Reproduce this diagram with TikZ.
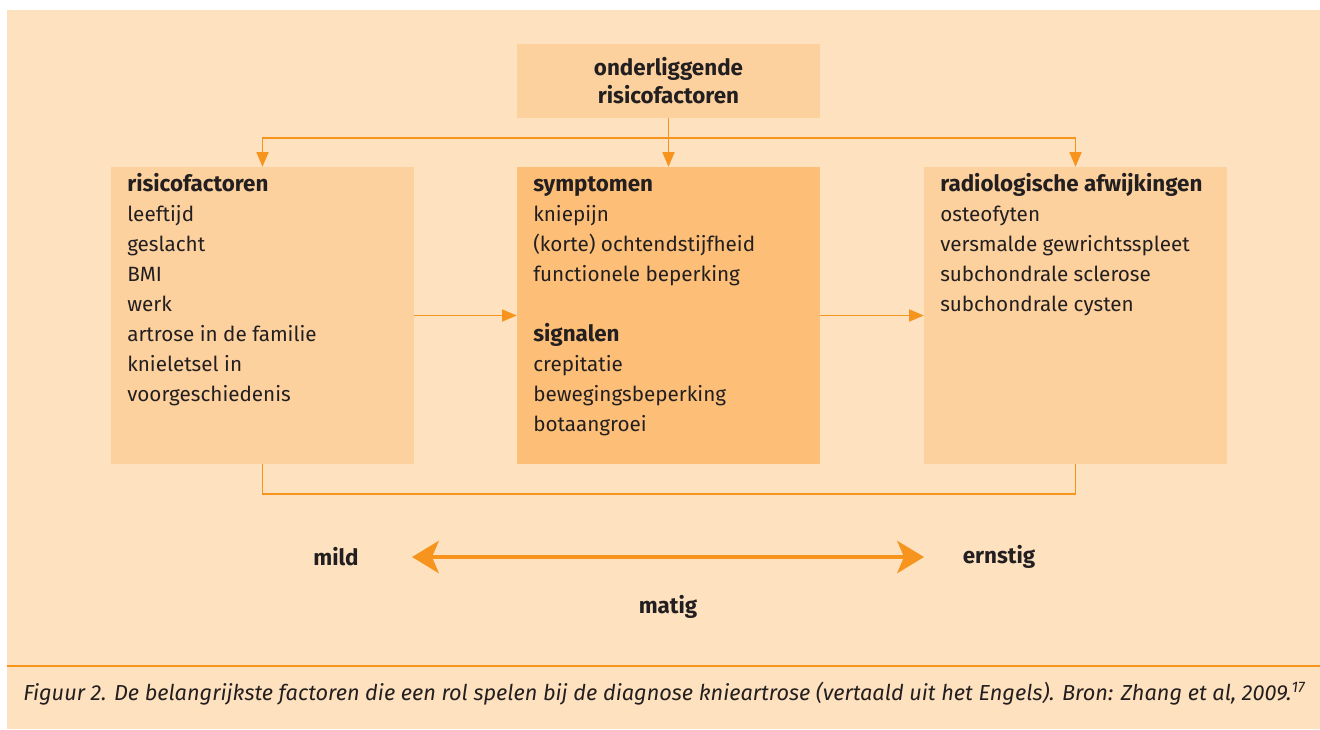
\documentclass[tikz,border=0pt]{standalone}
\usepackage{fontspec}
\setmainfont{Fira Sans}
\usetikzlibrary{arrows.meta}
\definecolor{peach}{HTML}{FEE1BF}
\definecolor{boxlight}{HTML}{FCD19E}
\definecolor{boxdark}{HTML}{FDBF77}
\definecolor{flow}{HTML}{F7941D}
\definecolor{ink}{HTML}{231F20}
\newcommand{\headfont}{\fontsize{16.8}{22.5}\selectfont\bfseries\strut}

\begin{document}
\begin{tikzpicture}[x=0.75pt,y=0.75pt,yscale=-1,xscale=1,
  factorbox/.style={inner sep=0pt, minimum width=227.25pt, minimum height=222.75pt},
  boxtext/.style={anchor=north west, align=left, inner sep=0pt, text=ink, font=\fontsize{15.5}{22.5}\selectfont},
  link/.style={draw=flow, line width=1.3pt},
  linkarrow/.style={link, -{Triangle[length=11pt,width=9pt]}},
  scalearrow/.style={draw=flow, line width=3.4pt, {Stealth[length=20pt,width=24pt,inset=5pt]}-{Stealth[length=20pt,width=24pt,inset=5pt]}},
  scaletext/.style={inner sep=0pt, text=ink, font=\fontsize{16.8}{20}\selectfont\bfseries}]
\useasboundingbox (0,0) rectangle (1320,729);

%background
\fill [peach] (7,10) rectangle (1320,729);
\draw [flow, line width=1.5pt] (7,666) -- (1320,666);

%boxes
\node [inner sep=0pt, minimum width=227.25pt, minimum height=55.5pt, fill=boxlight, align=center, text=ink, font=\fontsize{16.8}{21}\selectfont\bfseries] (under) at (668.5,81) {onderliggende\\risicofactoren};
\node [factorbox, fill=boxlight] (risk) at (262.5,315.5) {};
\node [factorbox, fill=boxdark] (symp) at (668.5,315.5) {};
\node [factorbox, fill=boxlight] (radio) at (1075.5,315.5) {};

% Text Node
\node [boxtext] (risktext) at (127,170) {{\headfont risicofactoren}\\leeftijd\\geslacht\\BMI\\werk\\artrose in de familie\\knieletsel in\\voorgeschiedenis};
% Text Node
\node [boxtext] (symptext) at (533,170) {{\headfont symptomen}\\kniepijn\\(korte) ochtendstijfheid\\functionele beperking\\[22.5pt]{\headfont signalen}\\crepitatie\\bewegingsbeperking\\botaangroei};
% Text Node
\node [boxtext] (radiotext) at (940,170) {{\headfont radiologische afwijkingen}\\osteofyten\\versmalde gewrichtsspleet\\subchondrale sclerose\\subchondrale cysten};

%connectors
\coordinate (split) at (668.5,138);
\draw [linkarrow] (under.south) -- (symp.north);
\draw [linkarrow] (split) -| (risk.north);
\draw [linkarrow] (split) -| (radio.north);
\draw [link] (risk.south) -- ++(0,30) -| (radio.south);
\draw [linkarrow] (risk.east) -- (symp.west);
\draw [linkarrow] (symp.east) -- (radio.west);

%severity
\node [scaletext] (mild) at (336,557) {mild};
\node [scaletext] (ernstig) at (999,557) {ernstig};
\node [scaletext] (matig) at (668,607) {matig};
\coordinate (lo) at (412,557);
\coordinate (hi) at (924,557);
\draw [scalearrow] (lo) -- (hi);

% Text Node
\node [anchor=west, inner sep=0pt, text=ink, font=\itshape\fontsize{16.3}{18}\selectfont] (caption) at (23,694) {Figuur 2. De belangrijkste factoren die een rol spelen bij de diagnose knieartrose (vertaald uit het Engels). Bron: Zhang et al, 2009.\textsuperscript{17}};
\end{tikzpicture}
\end{document}
